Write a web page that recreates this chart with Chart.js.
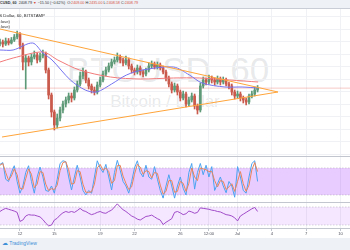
<!DOCTYPE html>
<html><head><meta charset="utf-8">
<script src="https://cdn.jsdelivr.net/npm/chart.js@4.4.1/dist/chart.umd.min.js"></script>
<style>
html,body{margin:0;padding:0;width:350px;height:250px;overflow:hidden;background:#fff;font-family:Arial,"Liberation Sans",sans-serif;}
#wrap{position:relative;width:350px;height:250px;overflow:hidden;}
.abs{position:absolute;white-space:nowrap;}
canvas{position:absolute;left:0;}
</style></head><body>
<div id="wrap">
  <div class="abs" style="left:0;top:0;width:350px;height:8px;background:#eef1f6;border-bottom:1px solid #c9cdd5;"></div>
  <div class="abs" id="hdr1" style="right:212px;top:1px;font-size:3.7px;line-height:5px;color:#333;">
    <b>BTCUSD, 60</b>&nbsp; 2408.79 <span style="color:#d75442">▼</span> −15.50 (−0.62%)&nbsp; O:<span style="color:#d75442">2409.00</span> H:<span style="color:#d75442">2435.00</span> L:<span style="color:#d75442">2408.58</span> C:<span style="color:#d75442">2408.79</span>
  </div>
  <div class="abs" style="right:305px;top:13px;font-size:4.3px;line-height:5px;color:#333;z-index:3;">Bitcoin / US Dollar, 60, BITSTAMP</div>
  <div class="abs" style="right:340px;top:19px;font-size:4.3px;line-height:5px;color:#333;z-index:3;">MA (100, close)</div>
  <div class="abs" style="right:340px;top:24px;font-size:4.3px;line-height:5px;color:#333;z-index:3;">MA (200, close)</div>
  <div class="abs" style="left:0;top:52px;width:336px;text-align:center;font-size:35px;line-height:35px;color:rgba(140,143,152,0.2);">BTCUSD, 60</div>
  <div class="abs" style="left:0;top:93px;width:330px;text-align:center;font-size:17px;line-height:17px;color:rgba(140,143,152,0.2);">Bitcoin / Dollar</div>
  <canvas id="cMain" width="350" height="147" style="top:9px"></canvas>
  <div class="abs" style="left:0;top:156px;width:350px;height:1px;background:#c2c6ce;"></div>
  <canvas id="cStoch" width="350" height="45" style="top:157px"></canvas>
  <div class="abs" style="left:0;top:202px;width:350px;height:1px;background:#c2c6ce;"></div>
  <canvas id="cRsi" width="350" height="35" style="top:203px"></canvas>
  <div class="abs" style="left:0;top:238px;width:350px;height:12px;background:#eef1f6;"></div>
  <div class="abs" style="left:2px;top:240px;font-size:5px;line-height:7px;color:#3d8fd6;"><span style="font-size:6px">☁</span> TradingView</div>
</div>
<script>
// ---------- DATA ----------
const candleStartDay = 9.25;   // days since Jun 1 (6-hour candles)
const candleStepDays = 0.25;
const opens  = [2850, 2870,2850,2880,2860,2890,2920,2950,2840,2670, 2710,2670,2720,2740,2690,2730,2750,2590,2340,2170, 2040,2110,2190,2250,2290,2330,2310,2390,2450,2530, 2570,2490,2430,2390,2370,2440,2490,2550,2590,2630, 2670,2690,2720,2690,2660,2690,2630,2590,2570,2610, 2570,2550,2590,2630,2650,2620,2640,2610,2570,2510, 2450,2390,2430,2370,2310,2350,2250,2290,2330,2230, 2190,2430,2490,2470,2510,2490,2470,2500,2470,2490, 2450,2430,2370,2330,2350,2310,2290,2270,2330,2350, 2390];
const highs  = [2900,2890,2910,2905,2915,2945,2980,2965,2860,2740, 2730,2750,2780,2760,2760,2790,2770,2610,2360,2190, 2150,2220,2280,2320,2360,2360,2420,2480,2570,2610, 2590,2510,2450,2420,2470,2520,2580,2620,2660,2700, 2720,2760,2740,2710,2730,2710,2650,2610,2640,2630, 2590,2610,2660,2680,2670,2670,2660,2630,2590,2530, 2470,2460,2450,2390,2380,2370,2320,2360,2350,2250, 2460,2520,2510,2540,2530,2510,2530,2520,2520,2510, 2470,2450,2390,2380,2370,2330,2310,2350,2380,2420, 2435];
const lows   = [2830,2820,2835,2840,2850,2875,2900,2800,2590,2400, 2630,2640,2700,2660,2670,2710,2560,2300,2120,1990, 2010,2080,2160,2220,2260,2270,2290,2370,2430,2500, 2460,2400,2360,2340,2350,2420,2470,2530,2570,2610, 2650,2670,2660,2630,2640,2600,2560,2540,2550,2540, 2520,2530,2570,2610,2600,2600,2590,2550,2480,2420, 2360,2370,2340,2280,2290,2220,2230,2270,2200,2150, 2170,2410,2440,2450,2460,2440,2450,2440,2450,2430, 2400,2340,2300,2310,2280,2260,2240,2250,2310,2330, 2370];
const closes = [2870,2850,2880,2860,2890,2920,2950,2840,2670,2710, 2670,2720,2740,2690,2730,2750,2590,2340,2170,2040, 2110,2190,2250,2290,2330,2310,2390,2450,2530,2570, 2490,2430,2390,2370,2440,2490,2550,2590,2630,2670, 2690,2720,2690,2660,2690,2630,2590,2570,2610,2570, 2550,2590,2630,2650,2620,2640,2610,2570,2510,2450, 2390,2430,2370,2310,2350,2250,2290,2330,2230,2190, 2430,2490,2470,2510,2490,2470,2500,2470,2490,2450, 2430,2370,2330,2350,2310,2290,2270,2330,2350,2390, 2408.79];

const maFastDays = [9.25,10.4,12.1,13.0,13.8,15.4,16.7,17.7,19.0,20.3,21.7,24.4,25.8,26.9,28.9,30.4,31.8];
const maFast     = [2790,2790,2860,2760,2690,2490,2390,2370,2450,2540,2590,2620,2540,2460,2420,2420,2410];
const maSlowDays = [9.25,10.4,13.0,14.3,16.2,18.9,21.5,24.4,26.7,29.3,31.8];
const maSlow     = [2670,2710,2770,2690,2590,2520,2500,2510,2510,2490,2470];

const triUpperDays = [9.25, 33.53];
const triUpper     = [3000, 2370];
const triLowerDays = [9.43, 33.53];
const triLower     = [1920, 2370];
const lastPrice = 2408.79;

const stochK = [88,92,55,50,70,85,50,24,40,70, 85,50,24,60,82,60,30,28,40,24, 55,90,96,94,60,31,60,86,60,30, 20,30,24,60,96,80,70,88,60,31, 70,97,75,50,40,24,50,80,96,70, 60,86,60,55,83,55,30,13,40,65, 40,13,40,60,35,20,70,90,33,70, 90,65,86,60,83,30,45,60,40,25, 50,40,15,83,60,30,24,60,90,96, 50];
const stochD = [86,90,70,53,62,78,65,35,33,56, 78,66,36,44,72,70,44,30,34,32, 42,74,92,94,76,44,46,74,72,44, 26,26,27,44,80,88,75,80,72,46, 52,85,86,62,46,32,38,66,88,82, 66,74,72,58,70,68,42,22,28,52, 52,26,28,50,46,28,46,80,60,52, 80,78,76,72,72,52,38,52,50,32, 38,45,28,50,72,45,28,42,76,92, 72];
const stochBands = [80, 20];
const rsi = [60,64,67,65,63,61,58,38,41,50, 53,52,52,50,48,42,34,28,30,41, 45,52,57,60,58,60,58,62,67,62, 60,56,53,55,58,60,57,56,60,63, 70,77,70,64,60,55,50,47,43,41, 45,49,50,52,48,44,41,31,36,40, 44,58,60,57,53,55,61,59,56,58, 68,67,66,65,63,62,60,59,56,53, 52,50,46,39,50,54,58,62,66,69, 60];
const rsiBands = [70, 30];

const tickDays   = [11, 14, 18, 21, 25, 27.5, 30, 33, 36, 39];
const tickLabels = ['12','15','19','22','26','12:00','Jul','4','7','10'];
const priceGrid  = [3125,3000,2875,2750,2625,2500,2375,2250,2125,2000,1875,1750];

// ---------- VIEW ----------
const X_MIN = 9.2533, X_MAX = 39.821;
const UP = '#5f9a78', DOWN = '#c95a4c';
const days = closes.map((_, i) => candleStartDay + i * candleStepDays);
const pts = (xs, ys) => xs.map((x, i) => ({x, y: ys[i]}));
const candleColors = closes.map((c, i) => c >= opens[i] ? UP : DOWN);

function xScale(show) {
  return {
    type: 'linear', min: X_MIN, max: X_MAX, offset: false,
    afterBuildTicks: s => { s.ticks = tickDays.map(v => ({value: v})); },
    grid: {color: '#eff1f4', drawTicks: !!show, tickLength: 3, tickColor: '#c2c6ce', offset: false},
    border: {display: !!show, color: '#c2c6ce'},
    ticks: show ? {display: true, autoSkip: false, maxRotation: 0, padding: 0,
      font: {size: 4.2, family: 'Arial'}, color: '#50535e',
      callback: (v) => { const k = tickDays.indexOf(v); return k >= 0 ? tickLabels[k] : ''; }} : {display: false},
    afterFit: s => { s.height = show ? 10 : 0; }
  };
}
function yScale(min, max, grid) {
  return {
    type: 'linear', min, max,
    afterBuildTicks: s => { s.ticks = (grid || []).map(v => ({value: v})); },
    grid: {display: !!grid, color: '#eff1f4', drawTicks: false},
    border: {display: false}, ticks: {display: false},
    afterFit: s => { s.width = 0; }
  };
}
const base = {
  responsive: false, animation: false, events: [],
  layout: {padding: 0},
  plugins: {legend: {display: false}, tooltip: {enabled: false}},
};

new Chart(document.getElementById('cMain'), {
  type: 'bar',
  data: {datasets: [
    {type: 'line', data: pts(triUpperDays, triUpper), borderColor: '#ffa43a', borderWidth: 1, pointRadius: 0, order: 1},
    {type: 'line', data: pts(triLowerDays, triLower), borderColor: '#ffa43a', borderWidth: 1, pointRadius: 0, order: 1},
    {type: 'line', data: pts(maFastDays, maFast), borderColor: '#7472f0', borderWidth: 1, pointRadius: 0, tension: 0.3, order: 3},
    {type: 'line', data: pts(maSlowDays, maSlow), borderColor: '#f27a7a', borderWidth: 1, pointRadius: 0, tension: 0.3, order: 4},
    {type: 'line', data: pts([X_MIN, X_MAX], [lastPrice, lastPrice]), borderColor: 'rgba(230,120,110,0.4)', borderWidth: 1, pointRadius: 0, order: 9},
    {data: days.map((d, i) => ({x: d, y: [opens[i], closes[i]]})), backgroundColor: candleColors, barThickness: 2, grouped: false, order: 6},
    {data: days.map((d, i) => ({x: d, y: [lows[i], highs[i]]})), backgroundColor: candleColors, barThickness: 1, grouped: false, order: 7},
  ]},
  options: Object.assign({}, base, {scales: {x: xScale(false), y: yScale(1730, 3200, priceGrid)}})
});

new Chart(document.getElementById('cStoch'), {
  type: 'line',
  data: {datasets: [
    {data: pts(days, stochK), borderColor: '#4aa3f0', borderWidth: 1, pointRadius: 0, order: 2},
    {data: pts(days, stochD), borderColor: '#e8845a', borderWidth: 1, pointRadius: 0, order: 1},
    {data: pts([X_MIN, X_MAX], [stochBands[0], stochBands[0]]), borderColor: 'rgba(120,123,134,0.5)', borderDash: [1.5, 1.5], borderWidth: 0.6, pointRadius: 0, fill: false, order: 5},
    {data: pts([X_MIN, X_MAX], [stochBands[1], stochBands[1]]), borderColor: 'rgba(120,123,134,0.5)', borderDash: [1.5, 1.5], borderWidth: 0.6, pointRadius: 0, fill: '-1', backgroundColor: 'rgba(153,21,255,0.22)', order: 6},
  ]},
  options: Object.assign({}, base, {scales: {x: xScale(false), y: yScale(4.4, 104.4, null)}})
});

new Chart(document.getElementById('cRsi'), {
  type: 'line',
  data: {datasets: [
    {data: pts(days, rsi), borderColor: '#a04bc8', borderWidth: 1, pointRadius: 0, order: 1},
    {data: pts([X_MIN, X_MAX], [rsiBands[0], rsiBands[0]]), borderColor: 'rgba(120,123,134,0.5)', borderDash: [1.5, 1.5], borderWidth: 0.6, pointRadius: 0, fill: false, order: 5},
    {data: pts([X_MIN, X_MAX], [rsiBands[1], rsiBands[1]]), borderColor: 'rgba(120,123,134,0.5)', borderDash: [1.5, 1.5], borderWidth: 0.6, pointRadius: 0, fill: '-1', backgroundColor: 'rgba(153,21,255,0.1)', order: 6},
  ]},
  options: Object.assign({}, base, {scales: {x: xScale(true), y: yScale(23.3, 78.9, null)}})
});
</script>
</body></html>
